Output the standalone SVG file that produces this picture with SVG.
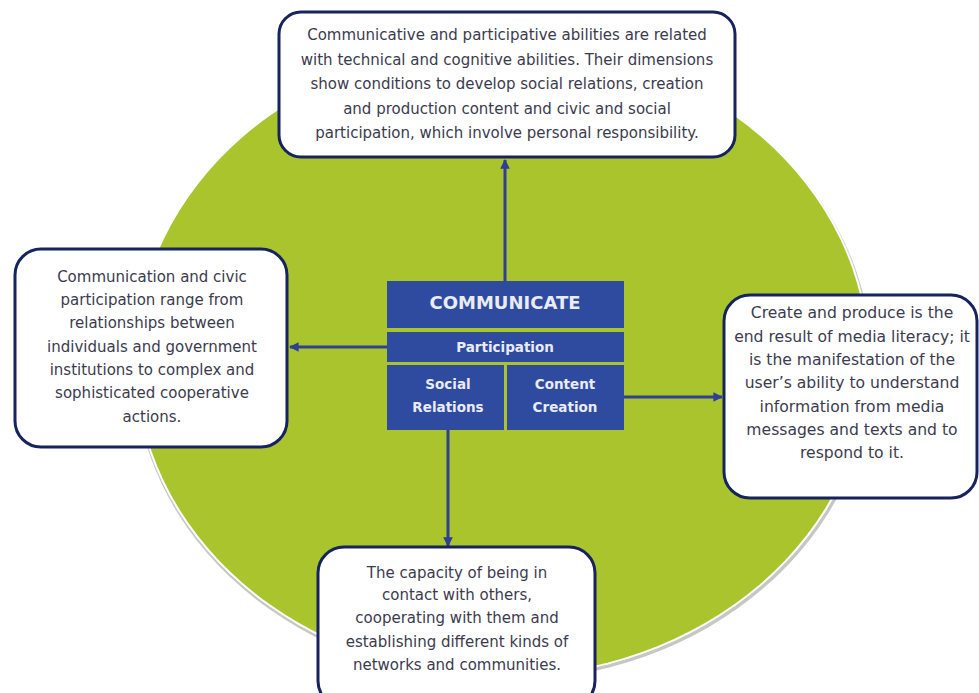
<svg xmlns="http://www.w3.org/2000/svg" width="979" height="693" viewBox="0 0 979 693">
<defs>
<marker id="arr" viewBox="0 0 10 10" refX="9" refY="5" markerWidth="3.2" markerHeight="3.2" orient="auto" markerUnits="strokeWidth">
<path d="M0,0 L10,5 L0,10 z" fill="#2e3f94"/>
</marker>
</defs>
<style>
.box{fill:#ffffff;stroke:#16235e;stroke-width:3}
.txt{font-family:"DejaVu Sans","Liberation Sans",sans-serif;font-size:15px;fill:#3b3b4e;text-anchor:middle}
.rt{font-size:15.6px}
.blk{fill:#2f4b9f}
.wt{font-family:"DejaVu Sans","Liberation Sans",sans-serif;font-weight:bold;fill:#e9ecf4;text-anchor:middle}
.con{stroke:#2e3f94;stroke-width:3;fill:none;marker-end:url(#arr)}
</style>
<rect width="979" height="693" fill="#ffffff"/>
<g id="background">
<ellipse cx="503" cy="363" rx="369" ry="318" fill="#c6c6c6"/>
<ellipse cx="502" cy="360" rx="368" ry="318" fill="#ffffff"/>
<ellipse cx="502" cy="360" rx="366" ry="316" fill="#aac42e"/>
</g>
<g id="connectors">
<line class="con" x1="505" y1="281" x2="505" y2="160"/>
<line class="con" x1="387" y1="347" x2="290" y2="347"/>
<line class="con" x1="624" y1="397" x2="722" y2="397"/>
<line class="con" x1="448" y1="430" x2="448" y2="546"/>
</g>
<g id="center">
<rect class="blk" x="387" y="281" width="237" height="47"/>
<text class="wt" x="505" y="309" font-size="18">COMMUNICATE</text>
<rect class="blk" x="387" y="332" width="237" height="30"/>
<text class="wt" x="505" y="352" font-size="13.5">Participation</text>
<rect class="blk" x="387" y="365" width="117" height="65"/>
<text class="wt" x="448" y="389" font-size="13.5">Social</text>
<text class="wt" x="448" y="412" font-size="13.5">Relations</text>
<rect class="blk" x="507" y="365" width="117" height="65"/>
<text class="wt" x="565" y="389" font-size="13.5">Content</text>
<text class="wt" x="565" y="412" font-size="13.5">Creation</text>
</g>
<g id="top-box">
<rect class="box" x="279" y="12" width="456" height="145" rx="22"/>
<text class="txt" x="507" y="40">Communicative and participative abilities are related</text>
<text class="txt" x="507" y="65">with technical and cognitive abilities. Their dimensions</text>
<text class="txt" x="507" y="89">show conditions to develop social relations, creation</text>
<text class="txt" x="507" y="114">and production content and civic and social</text>
<text class="txt" x="507" y="138">participation, which involve personal responsibility.</text>
</g>
<g id="left-box">
<rect class="box" x="15" y="249" width="272" height="198" rx="26"/>
<text class="txt" x="152" y="282">Communication and civic</text>
<text class="txt" x="152" y="305">participation range from</text>
<text class="txt" x="152" y="328">relationships between</text>
<text class="txt" x="152" y="352">individuals and government</text>
<text class="txt" x="152" y="375">institutions to complex and</text>
<text class="txt" x="152" y="398">sophisticated cooperative</text>
<text class="txt" x="152" y="422">actions.</text>
</g>
<g id="right-box">
<rect class="box" x="724" y="295" width="253" height="203" rx="26"/>
<text class="txt rt" x="852" y="318">Create and produce is the</text>
<text class="txt rt" x="852" y="342">end result of media literacy; it</text>
<text class="txt rt" x="852" y="365">is the manifestation of the</text>
<text class="txt rt" x="852" y="388">user’s ability to understand</text>
<text class="txt rt" x="852" y="412">information from media</text>
<text class="txt rt" x="852" y="435">messages and texts and to</text>
<text class="txt rt" x="852" y="458">respond to it.</text>
</g>
<g id="bottom-box">
<rect class="box" x="318" y="547" width="277" height="160" rx="26"/>
<text class="txt" x="457" y="578">The capacity of being in</text>
<text class="txt" x="457" y="600">contact with others,</text>
<text class="txt" x="457" y="623">cooperating with them and</text>
<text class="txt" x="457" y="647">establishing different kinds of</text>
<text class="txt" x="457" y="670">networks and communities.</text>
</g>
</svg>
